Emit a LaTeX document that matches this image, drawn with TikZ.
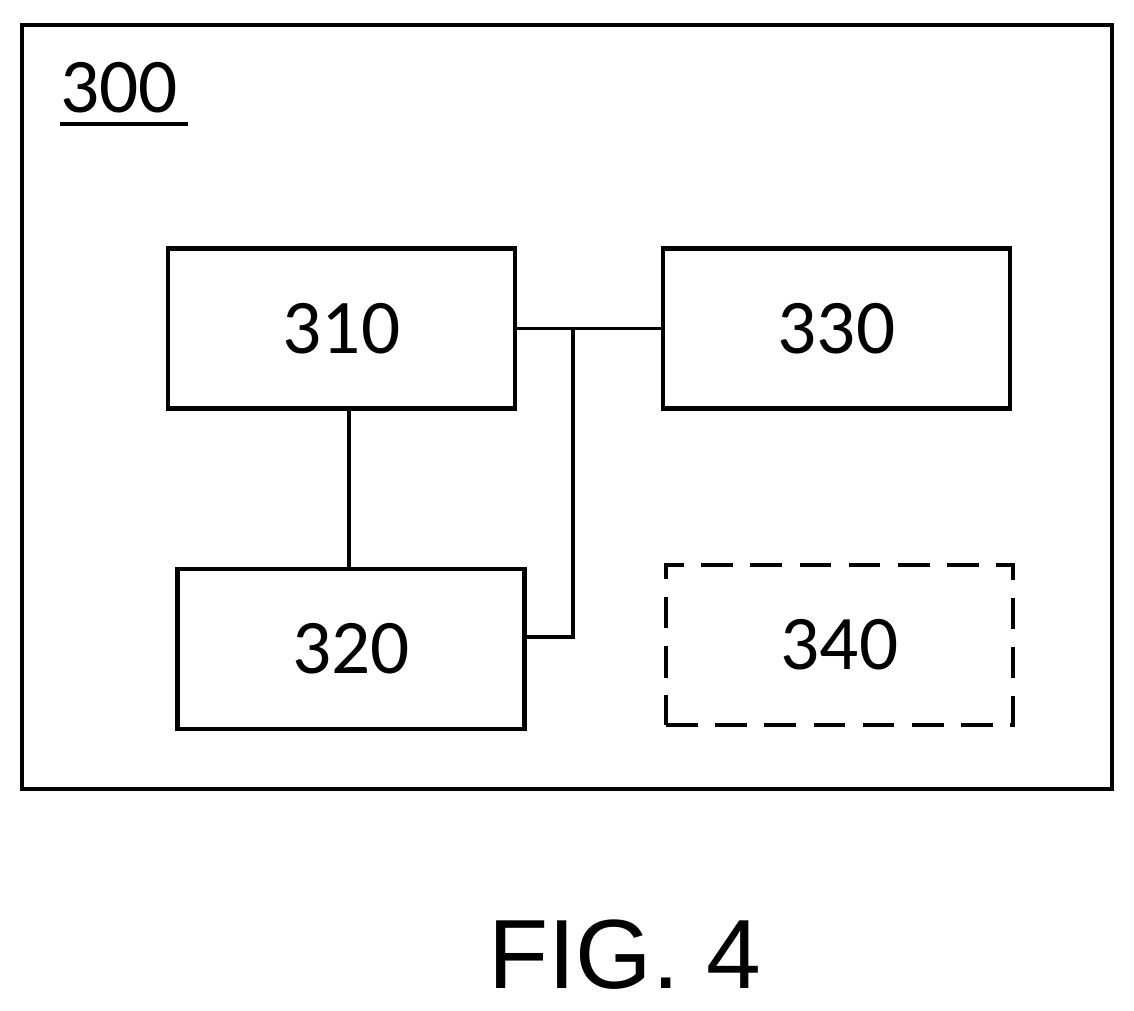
\documentclass[tikz,border=0pt]{standalone}
\usepackage{fontspec}
\setmainfont{Carlito}
\newfontfamily\figfont{Liberation Sans}
\usetikzlibrary{calc}

\begin{document}
\begin{tikzpicture}[x=0.02cm, y=-0.02cm,
  every node/.style={font=\fontsize{44}{48}\selectfont},
  unit/.style={draw, line width=2.8pt, minimum width=6.94cm, minimum height=3.2cm, inner sep=0pt},
  link/.style={line width=1.8pt}]
  \useasboundingbox (0,0) rectangle (1134,1011);

  % Outer frame
  \draw[line width=2.8pt] (22,25) rectangle (1112,789);
  \node[anchor=base west, inner sep=0pt] (lbl) at (60,112) {300};
  \draw[line width=2pt] (60,124) -- (188,124);

  % Units
  \node[unit] (u310) at (341.5,328.5) {310};
  \node[unit] (u330) at (836.5,328.5) {330};
  \node[unit] (u320) at (351,649) {320};
  \node[unit, dashed, dash pattern=on 18pt off 10pt] (u340) at (839.5,645) {340};

  % Connections
  \coordinate (j1) at (573,328.5);
  \coordinate (j2) at (573,637);
  \draw[link] (u310.east) -- (u330.west);
  \draw[link] (j1) -- (j2) -- (u320.east |- j2);
  \draw[link] (u310.south -| 349,0) -- (u320.north -| 349,0);

  % Caption
  \node[font=\figfont\fontsize{56}{60}\selectfont] (cap) at (625,955) {FIG. 4};
\end{tikzpicture}
\end{document}
